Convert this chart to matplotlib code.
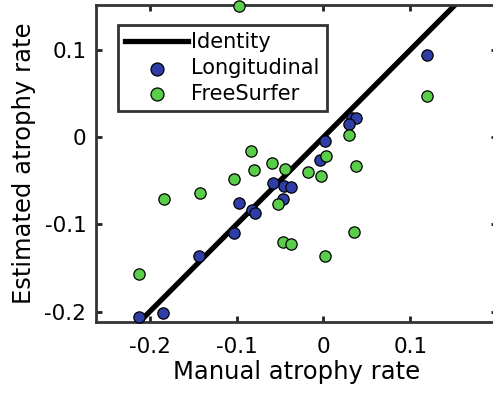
import numpy as np
import matplotlib.pyplot as plt

# Manual vs estimated atrophy rates
long_manual = [0.119, 0.033, 0.037, 0.030, 0.002, -0.004, -0.058, -0.045, -0.037,
               -0.047, -0.097, -0.082, -0.079, -0.103, -0.143, -0.185, -0.212]
long_est = [0.094, 0.022, 0.022, 0.015, -0.004, -0.026, -0.053, -0.056, -0.057,
            -0.071, -0.075, -0.084, -0.087, -0.110, -0.136, -0.202, -0.206]

fs_manual = [-0.097, 0.119, 0.030, 0.003, 0.037, -0.083, -0.059, -0.044, -0.080, -0.018,
             -0.003, -0.103, -0.142, -0.184, -0.052, -0.047, -0.037, 0.035, 0.002, -0.212]
fs_est = [0.150, 0.047, 0.002, -0.022, -0.033, -0.016, -0.030, -0.036, -0.038, -0.040,
          -0.044, -0.048, -0.064, -0.071, -0.077, -0.120, -0.123, -0.109, -0.136, -0.157]

identity = [-0.212, 0.16]
ticks = [-0.2, -0.1, 0, 0.1]
tick_labels = ['-0.2', '-0.1', '0', '0.1']

fig = plt.figure(figsize=(4.93, 3.93), dpi=100)
ax = fig.add_axes([96 / 493, 1 - 322 / 393, 401 / 493, 317 / 393])

ax.plot(identity, identity, color='black', lw=3.8, label='Identity', zorder=2)
ax.scatter(long_manual, long_est, s=66, c='#2e3ea6', edgecolors='black', linewidths=0.9,
           label='Longitudinal', zorder=3, clip_on=False)
ax.scatter(fs_manual, fs_est, s=66, c='#5acd4a', edgecolors='black', linewidths=0.9,
           label='FreeSurfer', zorder=3, clip_on=False)

ax.set_xlim(-0.262, 0.2)
ax.set_ylim(-0.212, 0.1516)
ax.set_xticks(ticks)
ax.set_xticklabels(tick_labels)
ax.set_yticks(ticks)
ax.set_yticklabels(tick_labels)
ax.tick_params(direction='in', length=4, width=2, color='#222222', labelsize=15.5,
               top=True, right=True)
ax.tick_params(axis='x', pad=11)
ax.tick_params(axis='y', pad=7)
for sp in ax.spines.values():
    sp.set_linewidth(2)
    sp.set_color('#333333')

ax.set_xlabel('Manual atrophy rate', fontsize=17.5, labelpad=2)
ax.set_ylabel('Estimated atrophy rate', fontsize=17.5, labelpad=6)

leg = ax.legend(loc='upper left', bbox_to_anchor=(0.055, 0.937), borderaxespad=0,
                fontsize=15, fancybox=False, framealpha=1, handlelength=3.0,
                handletextpad=0.15, borderpad=0.35, labelspacing=0.28, markerscale=1.15)
leg.get_frame().set_edgecolor('#333333')
leg.get_frame().set_linewidth(2)

fig.savefig('out.png', dpi=100)
